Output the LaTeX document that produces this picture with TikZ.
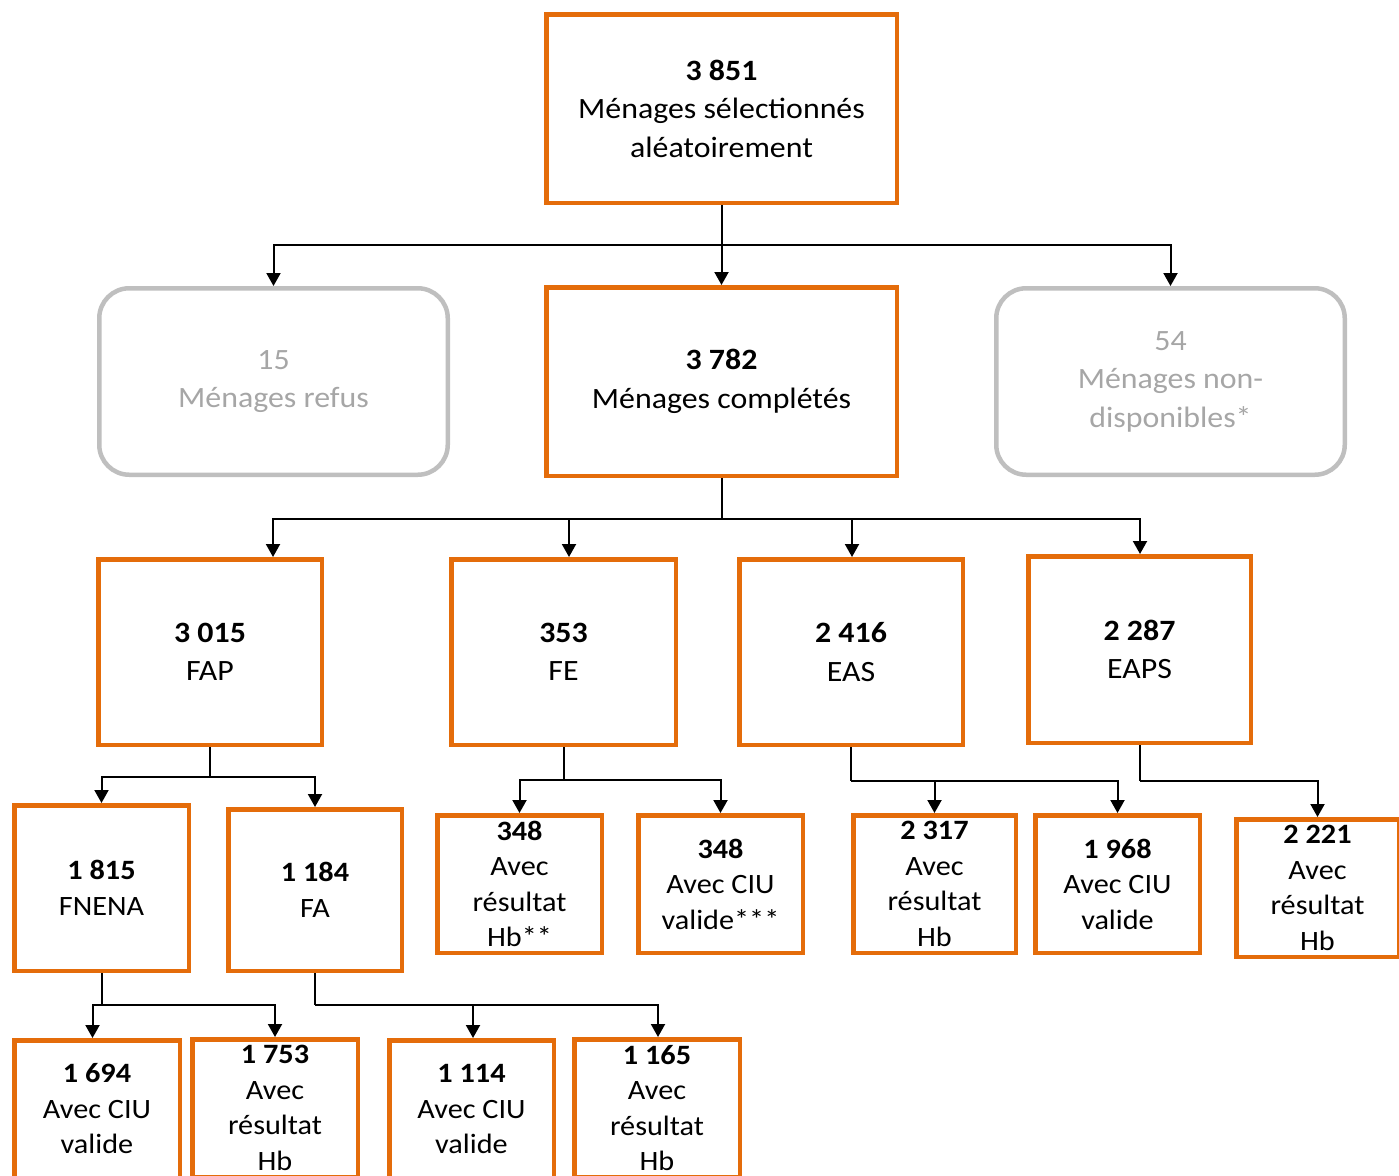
\documentclass[tikz,border=0pt]{standalone}
\usepackage{fontspec}
\setmainfont[FakeStretch=1.08]{Carlito}
\usetikzlibrary{arrows.meta}
\definecolor{borange}{HTML}{E46C0A}
\definecolor{gline}{HTML}{BFBFBF}
\definecolor{gtext}{HTML}{A6A6A6}
\begin{document}
\begin{tikzpicture}[x=1pt,y=-1pt,
  obox/.style={draw=borange,line width=4.5pt,align=center,inner sep=0pt,fill=white,
    font={\fontsize{29.5}{38.5}\selectfont}},
  sbox/.style={obox,font={\fontsize{28}{35.5}\selectfont}},
  gbox/.style={draw=gline,line width=4.5pt,rounded corners=30pt,align=center,inner sep=0pt,
    text=gtext,font={\fontsize{29.5}{38.5}\selectfont}},
  conn/.style={line width=2pt,black},
  arr/.style={conn,-{Triangle[width=14pt,length=13pt]}},
]
\useasboundingbox (0,0) rectangle (1399,1175);
\clip (0,0) rectangle (1399,1175);
% level 0
\node[obox,minimum width=350.5pt,minimum height=188.5pt] (top) at (721.5,108.5)
  {\textbf{3~851}\\Ménages sélectionnés\\aléatoirement};
% level 1
\node[gbox,minimum width=348.5pt,minimum height=186.5pt] (refus) at (273.5,381.5)
  {15\\Ménages refus};
\node[obox,minimum width=350.5pt,minimum height=188.5pt] (comp) at (721.5,381.5)
  {\textbf{3~782}\\Ménages complétés};
\node[gbox,minimum width=348.5pt,minimum height=186.5pt] (nd) at (1170.5,381.5)
  {54\\Ménages non-\\disponibles*};
% level 2
\node[obox,minimum width=223.5pt,minimum height=185.5pt] (fap) at (210,652) {\textbf{3~015}\\FAP};
\node[obox,minimum width=224.5pt,minimum height=185.5pt] (fe) at (563.5,652) {\textbf{353}\\FE};
\node[obox,minimum width=223.5pt,minimum height=185.5pt] (eas) at (851,652) {\textbf{2~416}\\EAS};
\node[obox,minimum width=222.5pt,minimum height=186.5pt] (eaps) at (1139.5,649.5) {\textbf{2~287}\\EAPS};
% level 3
\node[sbox,minimum width=174.5pt,minimum height=165.5pt] (fnena) at (101.5,888) {\textbf{1~815}\\FNENA};
\node[sbox,minimum width=173.5pt,minimum height=161.5pt] (fa) at (315,890) {\textbf{1~184}\\FA};
\node[sbox,minimum width=164.5pt,minimum height=137.5pt] (a1) at (519.5,884) {\textbf{348}\\Avec\\résultat\\Hb**};
\node[sbox,minimum width=164.5pt,minimum height=137.5pt] (a2) at (720.5,884) {\textbf{348}\\Avec CIU\\valide***};
\node[sbox,minimum width=162.5pt,minimum height=137.5pt] (b1) at (934.5,884) {\textbf{2~317}\\Avec\\résultat\\Hb};
\node[sbox,minimum width=164.5pt,minimum height=137.5pt] (b2) at (1117.5,884) {\textbf{1~968}\\Avec CIU\\valide};
\node[sbox,minimum width=162.5pt,minimum height=137.5pt] (c1) at (1317.5,888) {\textbf{2~221}\\Avec\\résultat\\Hb};
% level 4
\node[sbox,minimum width=165.5pt,minimum height=137.5pt] (d1) at (97,1109) {\textbf{1~694}\\Avec CIU\\valide};
\node[sbox,minimum width=165.5pt,minimum height=137.5pt] (d2) at (275,1108) {\textbf{1~753}\\Avec\\résultat\\Hb};
\node[sbox,minimum width=164.5pt,minimum height=137.5pt] (d3) at (471.5,1109) {\textbf{1~114}\\Avec CIU\\valide};
\node[sbox,minimum width=165.5pt,minimum height=137.5pt] (d4) at (657,1108) {\textbf{1~165}\\Avec\\résultat\\Hb};
% junctions
\coordinate (j1) at (721.5,245);
\coordinate (j2) at (721.5,519);
\coordinate (k1) at (210,777);
\coordinate (k2) at (563.5,780);
\coordinate (k3) at (851,781);
\coordinate (k4) at (1140,781);
\coordinate (k5) at (101.5,1005);
\coordinate (k6) at (315,1005);
% connectors
\draw[arr] (top.south) -- (comp.north);
\draw[arr] (j1) -| (refus.north);
\draw[arr] (j1) -| (nd.north);
\draw[conn] (comp.south) -- (j2);
\draw[arr] (j2) -| ([xshift=63pt]fap.north);
\draw[arr] (j2) -| ([xshift=5.5pt]fe.north);
\draw[arr] (j2) -| ([xshift=1pt]eas.north);
\draw[arr] (j2) -| ([xshift=0.5pt]eaps.north);
\draw[conn] (fap.south) -- (k1);
\draw[arr] (k1) -| (fnena.north);
\draw[arr] (k1) -| (fa.north);
\draw[conn] (fe.south) -- (k2);
\draw[arr] (k2) -| (a1.north);
\draw[arr] (k2) -| (a2.north);
\draw[conn] (eas.south) -- (k3);
\draw[arr] (k3) -| (b1.north);
\draw[arr] (k3) -| (b2.north);
\draw[conn] ([xshift=0.5pt]eaps.south) -- (k4);
\draw[arr] (k4) -| (c1.north);
\draw[conn] (fnena.south) -- (k5);
\draw[arr] (k5) -| ([xshift=-4.5pt]d1.north);
\draw[arr] (k5) -| (d2.north);
\draw[conn] (fa.south) -- (k6);
\draw[arr] (k6) -| ([xshift=1.5pt]d3.north);
\draw[arr] (k6) -| ([xshift=1pt]d4.north);
\end{tikzpicture}
\end{document}
